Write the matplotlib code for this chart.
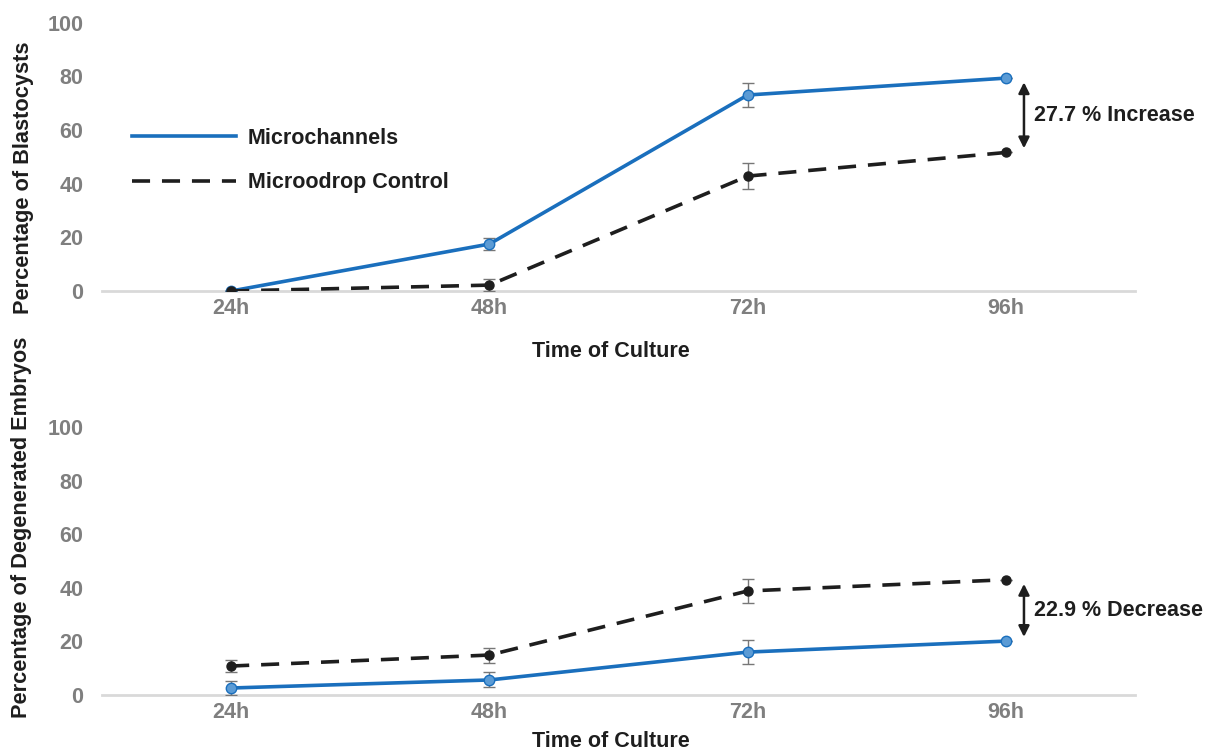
import matplotlib.pyplot as plt
from matplotlib.lines import Line2D

plt.rcParams['font.family'] = ['Liberation Sans', 'DejaVu Sans']
plt.rcParams['font.weight'] = 'bold'

times = ["24h", "48h", "72h", "96h"]

# blastocyst formation (%)
blast_micro = [0.0, 17.5, 73.0, 79.3]
blast_micro_err = [0.0, 2.4, 4.5, 0.0]
blast_ctrl = [0.0, 2.2, 42.8, 51.6]
blast_ctrl_err = [0.0, 2.2, 4.7, 0.0]

# degenerated embryos (%)
degen_micro = [2.6, 5.6, 16.0, 20.1]
degen_micro_err = [2.5, 2.8, 4.6, 0.0]
degen_ctrl = [10.8, 14.9, 38.8, 43.0]
degen_ctrl_err = [2.2, 2.8, 4.6, 0.0]

yticks = [0, 20, 40, 60, 80, 100]

BLUE = "#1a6fbd"
BLUE_FILL = "#5b9bd5"
DARK = "#1e1e1e"
GRAY_TXT = "#7f7f7f"
DASH = (0, (5, 3.3))

fig = plt.figure(figsize=(12.09, 7.51), dpi=100)
ax1 = fig.add_axes([0.0844, 0.6125, 0.8544, 0.3575])
ax2 = fig.add_axes([0.0844, 0.0746, 0.8544, 0.3569])

x = list(range(len(times)))


def draw_panel(ax, micro, micro_err, ctrl, ctrl_err, ylabel, xpad):
    ax.errorbar(x, micro, yerr=micro_err, color=BLUE, lw=2.6, marker='o', ms=7.5,
                mfc=BLUE_FILL, mec=BLUE, mew=1, ecolor="#777777", elinewidth=1,
                capsize=4, capthick=1, zorder=3)
    ax.errorbar(x, ctrl, yerr=ctrl_err, color=DARK, lw=2.6, ls=DASH, marker='o',
                ms=6.5, mfc=DARK, mec=DARK, ecolor="#777777", elinewidth=1,
                capsize=4, capthick=1, zorder=3)
    ax.set_xlim(-0.5, 3.5)
    ax.set_ylim(0, 100)
    ax.set_xticks(x)
    ax.set_xticklabels(times)
    ax.set_yticks(yticks)
    for s in ["top", "right", "left"]:
        ax.spines[s].set_visible(False)
    ax.spines["bottom"].set_color("#d9d9d9")
    ax.spines["bottom"].set_linewidth(2)
    ax.spines["bottom"].set_zorder(1)
    ax.tick_params(length=0, labelsize=15.5, labelcolor=GRAY_TXT)
    ax.tick_params(axis='y', pad=13.5)
    ax.tick_params(axis='x', pad=5)
    for lab in ax.get_xticklabels() + ax.get_yticklabels():
        lab.set_fontweight('bold')
    ax.set_xlabel("Time of Culture", fontsize=15.5, fontweight='bold', color=DARK,
                  labelpad=xpad)
    ax.xaxis.label.set_x(0.493)
    ax.set_ylabel(ylabel, fontsize=15.7, fontweight='bold', color=DARK)
    ax.patch.set_alpha(0)


draw_panel(ax1, blast_micro, blast_micro_err, blast_ctrl, blast_ctrl_err,
           "Percentage of Blastocysts", 16)
draw_panel(ax2, degen_micro, degen_micro_err, degen_ctrl, degen_ctrl_err,
           "Percentage of Degenerated Embryos", 5.5)

ax1.yaxis.set_label_coords(-0.066, 0.42)
ax2.yaxis.set_label_coords(-0.068, 0.625)


# difference arrows at 96h
def diff_arrow(ax, lo, hi, text):
    ax.annotate("", xy=(3.07, hi), xytext=(3.07, lo),
                arrowprops=dict(arrowstyle="<|-|>", color=DARK, lw=1.8,
                                mutation_scale=16, shrinkA=3, shrinkB=3))
    ax.text(3.11, (lo + hi) / 2, text, fontsize=15.5, fontweight='bold',
            color=DARK, va='center', ha='left')


diff_arrow(ax1, blast_ctrl[3], blast_micro[3],
           f"{blast_micro[3] - blast_ctrl[3]:.1f} % Increase")
diff_arrow(ax2, degen_micro[3], degen_ctrl[3],
           f"{degen_ctrl[3] - degen_micro[3]:.1f} % Decrease")

handles = [Line2D([], [], color=BLUE, lw=2.6),
           Line2D([], [], color=DARK, lw=2.6, ls=DASH)]
leg = ax1.legend(handles, ["Microchannels", "Microodrop Control"],
                 loc="upper left", bbox_to_anchor=(0.01, 0.68), frameon=False,
                 fontsize=15.5, handlelength=4.85, handletextpad=0.55, labelspacing=1.1)
for t in leg.get_texts():
    t.set_fontweight('bold')
    t.set_color(DARK)

fig.savefig("out.png", dpi=100)
